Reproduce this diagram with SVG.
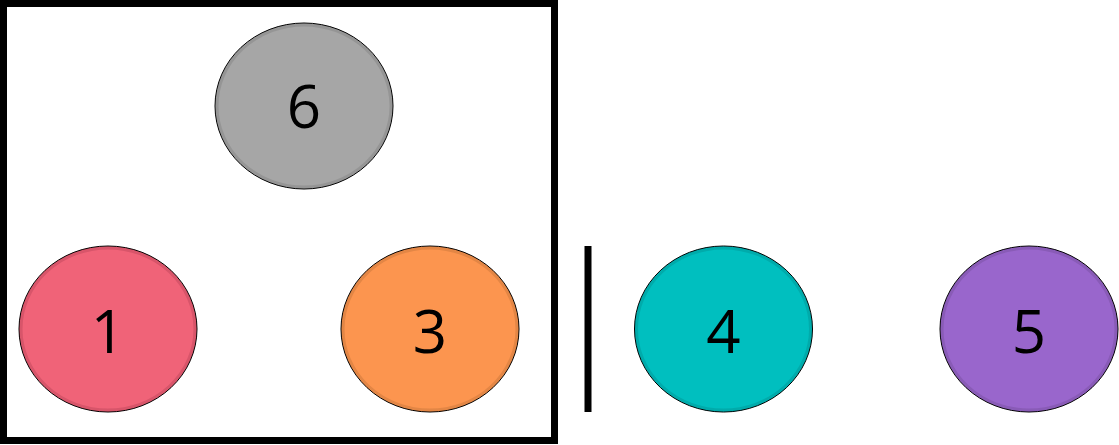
<svg xmlns="http://www.w3.org/2000/svg" width="1119" height="445" viewBox="0 0 1119 445">
<style>
.node{stroke:#000;stroke-width:1}
.bevel{fill:none;stroke-width:3;stroke-opacity:0.2}
.lbl{font-family:"Open Sans","Noto Sans",sans-serif;font-size:60px;fill:#000;text-anchor:middle}
</style>
<rect width="1119" height="445" fill="#fff"/>
<g id="group-box">
<rect x="3.5" y="3.5" width="551" height="437" fill="none" stroke="#000" stroke-width="7"/>
</g>
<g id="connectors">
<line x1="588" y1="246" x2="588" y2="412" stroke="#000" stroke-width="7"/>
</g>
<g id="node-6">
<ellipse class="node" cx="304" cy="106" rx="89" ry="83" fill="#A6A6A6"/>
<ellipse class="bevel" cx="304" cy="106" rx="87" ry="81" stroke="#555"/>
<text class="lbl" x="304" y="128">6</text>
</g>
<g id="node-1">
<ellipse class="node" cx="108" cy="329" rx="89" ry="83" fill="#F06378"/>
<ellipse class="bevel" cx="108" cy="329" rx="87" ry="81" stroke="#7a2030"/>
<text class="lbl" x="108" y="353">1</text>
</g>
<g id="node-3">
<ellipse class="node" cx="430" cy="329" rx="89" ry="83" fill="#FC954F"/>
<ellipse class="bevel" cx="430" cy="329" rx="87" ry="81" stroke="#804a20"/>
<text class="lbl" x="430" y="353">3</text>
</g>
<g id="node-4">
<ellipse class="node" cx="723.5" cy="329" rx="89" ry="83" fill="#00BFBF"/>
<ellipse class="bevel" cx="723.5" cy="329" rx="87" ry="81" stroke="#005f5f"/>
<text class="lbl" x="723.5" y="353">4</text>
</g>
<g id="node-5">
<ellipse class="node" cx="1029" cy="329" rx="89" ry="83" fill="#9966CC"/>
<ellipse class="bevel" cx="1029" cy="329" rx="87" ry="81" stroke="#4c3366"/>
<text class="lbl" x="1029" y="353">5</text>
</g>
</svg>
